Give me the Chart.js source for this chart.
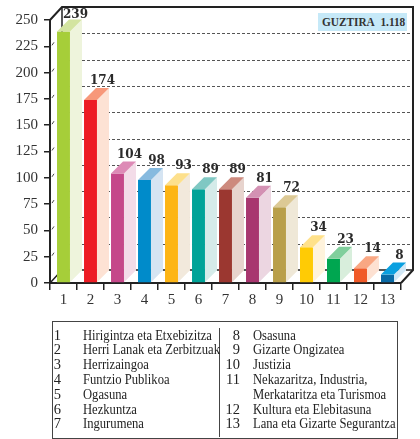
<!DOCTYPE html>
<html>
<head>
<meta charset="utf-8">
<script src="https://cdn.jsdelivr.net/npm/chart.js@4.4.1/dist/chart.umd.min.js"></script>
<style>
  html, body { margin: 0; padding: 0; background: #fff; }
  #wrap { position: relative; width: 420px; height: 439px; overflow: hidden; }
  canvas { position: absolute; left: 0; top: 0; }
  #total { position: absolute; left: 318px; top: 13px; width: 89px; height: 18px; background: #c6e9f8; }
  #totaltxt { position: absolute; left: 4px; top: 0; font-family: "Liberation Serif", serif; font-weight: bold; font-size: 13px; line-height: 18px;
           color: #333; white-space: nowrap; transform-origin: left center; transform: scaleX(0.87); }
  #legend { position: absolute; left: 52px; top: 321px; width: 346px; height: 118px; border: 1px solid #444; box-sizing: border-box; }
  #divider { position: absolute; left: 219px; top: 328px; width: 0; height: 109px; border-left: 1px solid #444; }
  .num { position: absolute; font-family: "Liberation Serif", serif; font-size: 14.5px; line-height: 15px; color: #222; text-align: right; width: 20px; }
  .lab { position: absolute; font-family: "Liberation Serif", serif; font-size: 14.5px; line-height: 15px; color: #222; white-space: nowrap; transform-origin: left center; transform: scaleX(0.87); }
</style>
</head>
<body>
<div id="wrap">
  <canvas id="c" width="420" height="439"></canvas>
  <div id="total"><span id="totaltxt"></span></div>
  <div id="legend"></div>
  <div id="divider"></div>
  <div id="legitems"></div>
</div>
<script>
// ---- data ----
const categories = ['1','2','3','4','5','6','7','8','9','10','11','12','13'];
const values = [239, 174, 104, 98, 93, 89, 89, 81, 72, 34, 23, 14, 8];
const yTicks = [0, 25, 50, 75, 100, 125, 150, 175, 200, 225, 250];
const totalTitle = 'GUZTIRA';
const totalValue = '1.118';
const legendNames = [
  'Hirigintza eta Etxebizitza',
  'Herri Lanak eta Zerbitzuak',
  'Herrizaingoa',
  'Funtzio Publikoa',
  'Ogasuna',
  'Hezkuntza',
  'Ingurumena',
  'Osasuna',
  'Gizarte Ongizatea',
  'Justizia',
  'Nekazaritza, Industria,\nMerkataritza eta Turismoa',
  'Kultura eta Elebitasuna',
  'Lana eta Gizarte Segurantza'
];
// ---- styles ----
const frontColors = ['#a6ce39','#ed1c24','#c5488a','#008bca','#fdb515','#00a398','#9b3730','#a8366f','#b99f4a','#ffcb05','#00a650','#f05a28','#0a6ba6'];
const sideColors  = ['#eef4dc','#fde2d4','#f3dce8','#d5e4f2','#f2e9dc','#d5ebe9','#e7d3cd','#ecd6e1','#efe8d7','#fff3dc','#d8eedc','#fde1d2','#d2e8f6'];
const topColors   = ['#d3e4a0','#f7987a','#dd8ab6','#86badf','#fde08c','#80c8c3','#cd8a7e','#d391b3','#dcc995','#ffe18a','#80cf9c','#f9a783','#0aa0e0'];
const DX = 12, DY = 12;   // bar depth
const WX = 12, WY = 13;   // wall depth

document.getElementById('totaltxt').innerHTML = totalTitle + '&nbsp;&nbsp;' + totalValue;

// legend
(function(){
  const host = document.getElementById('legitems');
  const rowY = i => 327.5 + 14.8 * i;
  let row = 0;
  legendNames.forEach((name, i) => {
    const left = i < 7;
    if (i === 7) row = 0;
    const n = document.createElement('div');
    n.className = 'num';
    n.textContent = categories[i];
    n.style.left = (left ? 41 : 220) + 'px';
    n.style.top = rowY(row) + 'px';
    host.appendChild(n);
    name.split('\n').forEach(part => {
      const t = document.createElement('div');
      t.className = 'lab';
      t.textContent = part;
      t.style.left = (left ? 83 : 253) + 'px';
      t.style.top = rowY(row) + 'px';
      host.appendChild(t);
      row++;
    });
  });
})();

const threeD = {
  id: 'threeD',
  beforeDatasetsDraw(chart) {
    const ctx = chart.ctx, a = chart.chartArea, y = chart.scales.y;
    ctx.save();
    // back wall dashed grid lines
    ctx.strokeStyle = '#555';
    ctx.lineWidth = 1;
    ctx.setLineDash([3, 2]);
    yTicks.forEach(v => {
      if (v === 0 || v === 250) return;
      const py = Math.round(y.getPixelForValue(v) - WY) + 0.5;
      ctx.beginPath();
      ctx.moveTo(a.left + WX, py);
      ctx.lineTo(a.right + WX, py);
      ctx.stroke();
    });
    ctx.setLineDash([]);
    // frame
    ctx.strokeStyle = '#222';
    ctx.lineWidth = 2;
    ctx.beginPath();
    ctx.moveTo(a.left, a.top);
    ctx.lineTo(a.left + WX, a.top - WY);
    ctx.lineTo(a.right + WX, a.top - WY);
    ctx.lineTo(a.right + WX, a.bottom - WY);
    ctx.lineTo(a.right, a.bottom);
    ctx.stroke();
    ctx.lineWidth = 1.5;
    ctx.beginPath();
    ctx.moveTo(a.left + WX, a.top - WY);
    ctx.lineTo(a.left + WX, a.bottom - WY);
    ctx.lineTo(a.right + WX, a.bottom - WY);
    ctx.moveTo(a.left, a.bottom);
    ctx.lineTo(a.left + WX, a.bottom - WY);
    ctx.stroke();
    // small slanted marks on left wall
    ctx.lineWidth = 1;
    ctx.strokeStyle = '#444';
    yTicks.forEach(v => {
      if (v === 0 || v === 250) return;
      const py = y.getPixelForValue(v);
      ctx.beginPath();
      ctx.moveTo(a.left + 2, py - 1);
      ctx.lineTo(a.left + 4, py - 4);
      ctx.stroke();
    });
    ctx.restore();
  },
  afterDatasetsDraw(chart) {
    const ctx = chart.ctx, meta = chart.getDatasetMeta(0);
    ctx.save();
    meta.data.forEach((bar, i) => {
      const p = bar.getProps(['x','y','base','width'], true);
      const l = p.x - p.width / 2, r = p.x + p.width / 2, t = p.y, b = p.base;
      // side face
      ctx.fillStyle = sideColors[i];
      ctx.beginPath();
      ctx.moveTo(r, b); ctx.lineTo(r + DX, b - DY); ctx.lineTo(r + DX, t - DY); ctx.lineTo(r, t);
      ctx.closePath(); ctx.fill();
      // top face
      ctx.fillStyle = topColors[i];
      ctx.beginPath();
      ctx.moveTo(l, t); ctx.lineTo(l + DX, t - DY); ctx.lineTo(r + DX, t - DY); ctx.lineTo(r, t);
      ctx.closePath(); ctx.fill();
      // value label
      ctx.fillStyle = '#2a2a2a';
      ctx.font = 'bold 12px "DejaVu Serif", serif';
      ctx.textAlign = 'center';
      ctx.textBaseline = 'alphabetic';
      const by = Math.max(t - DY - 4, 18);
      ctx.fillText(String(values[i]), p.x + 12, by);
    });
    ctx.restore();
  }
};

new Chart(document.getElementById('c'), {
  type: 'bar',
  data: {
    labels: categories,
    datasets: [{
      data: values,
      backgroundColor: frontColors,
      borderWidth: 0,
      categoryPercentage: 1,
      barPercentage: 0.48
    }]
  },
  options: {
    responsive: false,
    animation: false,
    events: [],
    layout: { padding: { top: 20, right: 19, left: 0, bottom: 126 } },
    plugins: { legend: { display: false }, tooltip: { enabled: false } },
    scales: {
      x: {
        offset: true,
        grid: { display: true, drawOnChartArea: false, drawTicks: true, tickLength: 7, color: '#222', lineWidth: 1.5, offset: true },
        border: { display: true, color: '#222', width: 2 },
        ticks: { color: '#333', padding: 1, font: { family: '"Liberation Serif", serif', size: 15 } },
        afterFit(s) { s.height = 30; }
      },
      y: {
        min: 0, max: 250,
        afterBuildTicks(s) { s.ticks = yTicks.map(v => ({ value: v })); },
        grid: { display: true, drawOnChartArea: false, drawTicks: true, tickLength: 6, color: '#222', lineWidth: 1.5 },
        border: { display: true, color: '#222', width: 2 },
        ticks: { color: '#333', padding: 6, font: { family: '"Liberation Serif", serif', size: 15 } },
        afterFit(s) { s.width = 50; }
      }
    }
  },
  plugins: [threeD]
});
</script>
</body>
</html>
